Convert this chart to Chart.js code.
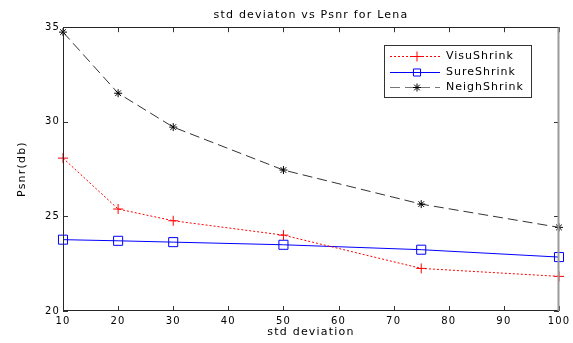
<!DOCTYPE html>
<html><head><meta charset="utf-8">
<script src="https://cdn.jsdelivr.net/npm/chart.js@4/dist/chart.umd.min.js"></script>
<style>html,body{margin:0;padding:0;background:#fff;}#wrap{width:573px;height:343px;}</style>
</head><body><div id="wrap"><canvas id="c" width="573" height="343"></canvas></div>
<script>
const stdDeviation = [10, 20, 30, 50, 75, 100];
const visuShrink  = [28.08, 25.39, 24.77, 24.01, 22.25, 21.83];
const sureShrink  = [23.77, 23.71, 23.64, 23.50, 23.24, 22.85];
const neighShrink = [34.74, 31.51, 29.72, 27.45, 25.65, 24.42];
const xTicks = [10, 20, 30, 40, 50, 60, 70, 80, 90, 100];
const yTicks = [20, 25, 30, 35];
const seriesNames = ['VisuShrink', 'SureShrink', 'NeighShrink'];
const titleText = 'std deviaton vs Psnr for Lena';
const xLabel = 'std deviation';
const yLabel = 'Psnr(db)';

const pts = arr => stdDeviation.map((x, i) => ({x: x, y: arr[i]}));

Chart.defaults.font.family = '"DejaVu Sans", sans-serif';
Chart.defaults.font.size = 10;
Chart.defaults.color = '#000';

const framePlugin = {
  id: 'frame',
  beforeDraw(chart) { chart.ctx.letterSpacing = '1.2px'; },
  afterDraw(chart) {
    const {ctx, chartArea: a, scales: {x, y}} = chart;
    ctx.save();
    ctx.letterSpacing = '0px';
    ctx.lineWidth = 1;
    ctx.setLineDash([]);
    // inward ticks
    ctx.strokeStyle = '#333';
    ctx.beginPath();
    x.ticks.forEach(t => {
      const px = Math.round(x.getPixelForValue(t.value)) + 0.5;
      ctx.moveTo(px, a.bottom); ctx.lineTo(px, a.bottom - 5);
      ctx.moveTo(px, a.top); ctx.lineTo(px, a.top + 5);
    });
    y.ticks.forEach(t => {
      const py = Math.round(y.getPixelForValue(t.value)) + 0.5;
      ctx.moveTo(a.left, py); ctx.lineTo(a.left + 5, py);
      ctx.moveTo(a.right, py); ctx.lineTo(a.right - 5, py);
    });
    ctx.stroke();
    // box
    const L = Math.round(a.left) + 0.5, R = Math.round(a.right) - 0.5;
    const T = Math.round(a.top) + 0.5, B = Math.round(a.bottom) - 0.5;
    ctx.strokeStyle = '#262626';
    ctx.beginPath();
    ctx.moveTo(R, T); ctx.lineTo(L, T); ctx.lineTo(L, B); ctx.lineTo(R, B);
    ctx.stroke();
    ctx.strokeStyle = '#9a9a9a';
    ctx.lineWidth = 2;
    ctx.beginPath(); ctx.moveTo(R, T); ctx.lineTo(R, B + 0.5); ctx.stroke();
    // legend
    ctx.lineWidth = 1;
    ctx.fillStyle = '#fff';
    ctx.fillRect(384, 45, 148, 53);
    ctx.strokeStyle = '#333';
    ctx.strokeRect(384.5, 45.5, 147, 52);
    const rows = [56, 72, 87];
    chart.data.datasets.forEach((d, i) => {
      const yy = rows[i] + 0.5;
      ctx.save();
      ctx.strokeStyle = i === 2 ? '#777' : d.borderColor;
      ctx.lineWidth = 1;
      ctx.setLineDash(d.borderDash || []);
      ctx.beginPath(); ctx.moveTo(390, yy); ctx.lineTo(440, yy); ctx.stroke();
      ctx.setLineDash([]);
      ctx.strokeStyle = d.pointBorderColor;
      ctx.fillStyle = 'rgba(0,0,0,0)';
      Chart.helpers.drawPoint(ctx, {pointStyle: d.pointStyle, radius: i === 1 ? 5 : d.pointRadius, borderWidth: 1, rotation: 0}, 417, yy);
      ctx.restore();
      ctx.save();
      ctx.font = '11px "DejaVu Sans"';
      ctx.letterSpacing = '1px';
      ctx.fillStyle = '#000';
      ctx.textBaseline = 'middle';
      ctx.textAlign = 'left';
      ctx.fillText(d.label, 446, rows[i]);
      ctx.restore();
    });
    ctx.restore();
  }
};

new Chart(document.getElementById('c'), {
  type: 'line',
  data: {
    datasets: [
      {label: seriesNames[0], data: pts(visuShrink), borderColor: '#ff0000', borderWidth: 1, borderDash: [2, 2],
       pointStyle: 'cross', pointRadius: 5, pointBorderColor: '#ff0000', pointBackgroundColor: 'rgba(0,0,0,0)', pointBorderWidth: 1, tension: 0, clip: false},
      {label: seriesNames[1], data: pts(sureShrink), borderColor: '#0000ff', borderWidth: 1,
       pointStyle: 'rect', pointRadius: 6.4, pointBorderColor: '#0000ff', pointBackgroundColor: 'rgba(0,0,0,0)', pointBorderWidth: 1, tension: 0, clip: false},
      {label: seriesNames[2], data: pts(neighShrink), borderColor: '#333333', borderWidth: 1, borderDash: [10, 5],
       pointStyle: 'star', pointRadius: 4, pointBorderColor: '#000000', pointBackgroundColor: 'rgba(0,0,0,0)', pointBorderWidth: 1, tension: 0, clip: false}
    ]
  },
  options: {
    responsive: false,
    animation: false,
    devicePixelRatio: 1,
    layout: {padding: {left: 0, right: 14, top: 0, bottom: 0}},
    plugins: {
      legend: {display: false},
      tooltip: {enabled: false},
      title: {display: true, text: titleText, fullSize: false, color: '#000',
              font: {size: 11, weight: 'normal'}, padding: {top: 9, bottom: 5}}
    },
    scales: {
      x: {
        type: 'linear', min: 10, max: 100,
        afterBuildTicks: s => { s.ticks = xTicks.map(v => ({value: v})); },
        afterFit: s => { s.height = 32; },
        ticks: {padding: 4, color: '#000', font: {size: 10}, maxRotation: 0, autoSkip: false},
        grid: {display: false, drawTicks: false},
        border: {display: false},
        title: {display: true, text: xLabel, color: '#000', font: {size: 11}, padding: {top: 0, bottom: 4}}
      },
      y: {
        type: 'linear', min: 20, max: 35,
        afterBuildTicks: s => { s.ticks = yTicks.map(v => ({value: v})); },
        afterFit: s => { s.width = 63; },
        ticks: {padding: 3, color: '#000', font: {size: 10}, autoSkip: false},
        grid: {display: false, drawTicks: false},
        border: {display: false},
        title: {display: true, text: yLabel, color: '#000', font: {size: 11}, padding: {top: 16, bottom: 0}}
      }
    }
  },
  plugins: [framePlugin]
});
</script>
</body></html>
